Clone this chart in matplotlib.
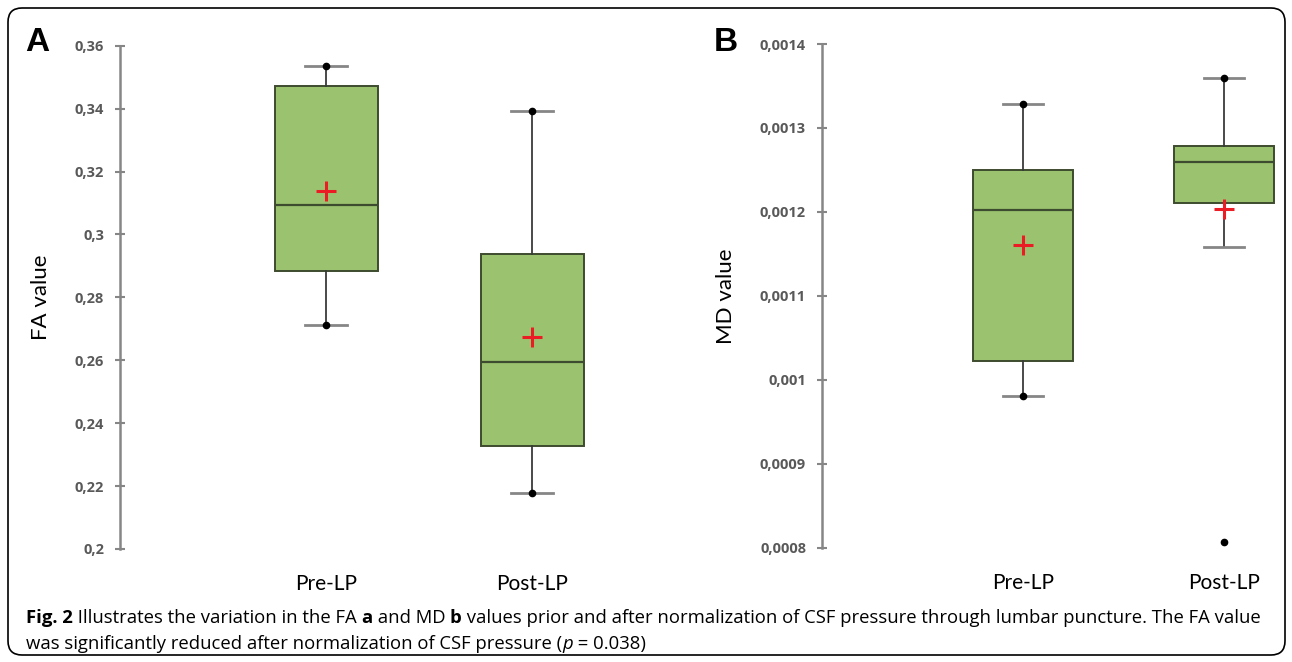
import numpy as np
import matplotlib
matplotlib.use("Agg")
import matplotlib.pyplot as plt
from matplotlib.patches import FancyBboxPatch
from matplotlib.ticker import MultipleLocator, FuncFormatter

# groups on the x axis
groups = ["Pre-LP", "Post-LP"]

# panel A, FA value
fa_min = [0.2711, 0.2178]
fa_q1 = [0.2885, 0.2329]
fa_med = [0.3094, 0.2594]
fa_q3 = [0.3472, 0.2937]
fa_max = [0.3536, 0.3392]
fa_mean = [0.3139, 0.2673]
fa_whislo = [0.2711, 0.2178]
fa_whishi = [0.3536, 0.3392]

# panel B, MD value
md_min = [0.000981, 0.000807]
md_q1 = [0.001022, 0.001211]
md_med = [0.001202, 0.001260]
md_q3 = [0.001250, 0.001279]
md_max = [0.001329, 0.001360]
md_mean = [0.001160, 0.001204]
md_whislo = [0.000981, 0.001158]
md_whishi = [0.001329, 0.001360]

BOX_GREEN = "#9bc36f"
BOX_EDGE = "#3d4b2e"
AXIS_GREY = "#868686"
TICK_GREY = "#595959"

LABEL_FONT = ["Lato", "DejaVu Sans"]
NARROW_FONT = ["Liberation Sans Narrow", "Open Sans", "DejaVu Sans"]


def comma_fmt(v, pos):
    return "{:g}".format(round(v, 6)).replace(".", ",")


def draw_panel(ax, q1, med, q3, lo, hi, mean, mins, maxs, ymin, ymax, step, ylabel, xmax):
    stats = []
    for i in range(len(groups)):
        stats.append(dict(q1=q1[i], med=med[i], q3=q3[i], whislo=lo[i],
                          whishi=hi[i], mean=mean[i], fliers=[], label=groups[i]))
    pos = np.arange(1, len(groups) + 1)
    ax.bxp(stats, positions=pos, widths=0.5, capwidths=0.2, patch_artist=True,
           showmeans=True, showfliers=False,
           boxprops=dict(facecolor=BOX_GREEN, edgecolor=BOX_EDGE, linewidth=1.4),
           medianprops=dict(color=BOX_EDGE, linewidth=1.6),
           whiskerprops=dict(color="#3a3a3a", linewidth=1.3),
           capprops=dict(color=AXIS_GREY, linewidth=2.0),
           meanprops=dict(marker="+", markeredgecolor="#ec1c24",
                          markersize=14, markeredgewidth=2.2))
    # minimum and maximum points
    ax.plot(pos, mins, "o", color="black", markersize=4.5, zorder=5)
    ax.plot(pos, maxs, "o", color="black", markersize=4.5, zorder=5)

    ax.set_xlim(0, xmax)
    ax.set_ylim(ymin, ymax)
    ax.yaxis.set_major_locator(MultipleLocator(step))
    ax.yaxis.set_major_formatter(FuncFormatter(comma_fmt))
    for s in ["top", "right", "bottom"]:
        ax.spines[s].set_visible(False)
    ax.spines["left"].set_color(AXIS_GREY)
    ax.spines["left"].set_linewidth(1.8)
    ax.tick_params(axis="y", direction="inout", length=7, width=1.5,
                   color=AXIS_GREY, labelcolor=TICK_GREY, pad=8)
    for lab in ax.get_yticklabels():
        lab.set_family(NARROW_FONT)
        lab.set_fontsize(10.5)
        lab.set_fontweight("bold")
    ax.set_xticks(pos)
    ax.set_xticklabels(groups, family=LABEL_FONT, fontsize=15)
    ax.tick_params(axis="x", length=0, pad=18)
    ax.set_ylabel(ylabel, family=LABEL_FONT, fontsize=16, labelpad=17)


def rich_line(fig, x, y, parts, size):
    r = fig.canvas.get_renderer()
    for s, w, st in parts:
        t = fig.text(x, y, s, fontsize=size, fontweight=w, fontstyle=st,
                     family=NARROW_FONT, va="baseline", ha="left")
        bb = t.get_window_extent(r)
        x += bb.width / fig.bbox.width


fig = plt.figure(figsize=(12.92, 6.62), dpi=100)
axA = fig.add_axes([120 / 1292, 1 - 549 / 662, 618 / 1292, (549 - 45.7) / 662])
axB = fig.add_axes([822 / 1292, 1 - 547.7 / 662, 462 / 1292, (547.7 - 44) / 662])

draw_panel(axA, fa_q1, fa_med, fa_q3, fa_whislo, fa_whishi, fa_mean,
           fa_min, fa_max, 0.2, 0.36, 0.02, "FA value", 3)
draw_panel(axB, md_q1, md_med, md_q3, md_whislo, md_whishi, md_mean,
           md_min, md_max, 0.0008, 0.0014, 0.0001, "MD value", 2.3)

fig.text(25 / 1292, 1 - 51 / 662, "A", fontsize=24, fontweight="bold",
         family=["Liberation Sans", "DejaVu Sans"], va="baseline")
fig.text(714 / 1292, 1 - 51 / 662, "B", fontsize=24, fontweight="bold",
         family=["Liberation Sans", "DejaVu Sans"], va="baseline")

# frame round the whole figure
frame = FancyBboxPatch((0.08, 0.07), 12.77, 6.47,
                       boxstyle="round,pad=0,rounding_size=0.14",
                       transform=fig.dpi_scale_trans, fill=False,
                       edgecolor="black", linewidth=1.2)
fig.patches.append(frame)

line1 = [("Fig. 2", "bold", "normal"),
         (" Illustrates the variation in the FA ", "normal", "normal"),
         ("a", "bold", "normal"),
         (" and MD ", "normal", "normal"),
         ("b", "bold", "normal"),
         (" values prior and after normalization of CSF pressure through lumbar puncture. The FA value",
          "normal", "normal")]
line2 = [("was significantly reduced after normalization of CSF pressure (", "normal", "normal"),
         ("p", "normal", "italic"),
         (" = 0.038)", "normal", "normal")]
rich_line(fig, 26 / 1292, 1 - 623 / 662, line1, 13.3)
rich_line(fig, 26 / 1292, 1 - 649 / 662, line2, 13.3)

fig.savefig("out.png", dpi=100)
